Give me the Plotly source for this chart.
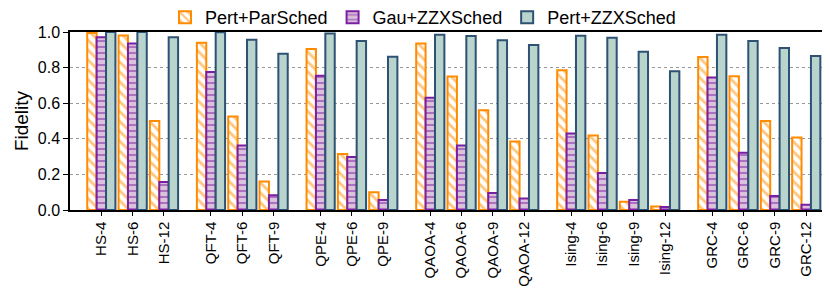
import plotly.graph_objects as go

categories = ["HS-4", "HS-6", "HS-12",
              "QFT-4", "QFT-6", "QFT-9",
              "QPE-4", "QPE-6", "QPE-9",
              "QAOA-4", "QAOA-6", "QAOA-9", "QAOA-12",
              "Ising-4", "Ising-6", "Ising-9", "Ising-12",
              "GRC-4", "GRC-6", "GRC-9", "GRC-12"]
group_sizes = [3, 3, 3, 4, 4, 4]

pert_parsched = [0.995, 0.98, 0.50,
                 0.94, 0.525, 0.16,
                 0.905, 0.315, 0.10,
                 0.935, 0.75, 0.56, 0.385,
                 0.785, 0.418, 0.047, 0.02,
                 0.86, 0.752, 0.50, 0.407]
gau_zzxsched = [0.97, 0.935, 0.158,
                0.775, 0.362, 0.083,
                0.754, 0.298, 0.056,
                0.63, 0.362, 0.096, 0.064,
                0.43, 0.208, 0.056, 0.017,
                0.745, 0.321, 0.079, 0.03]
pert_zzxsched = [1.0, 1.0, 0.97,
                 0.998, 0.957, 0.878,
                 0.992, 0.949, 0.861,
                 0.985, 0.977, 0.953, 0.927,
                 0.979, 0.968, 0.889, 0.779,
                 0.985, 0.949, 0.91, 0.865]

# x positions: unit spacing within groups, extra gap between groups
xpos = []
pos = 0.0
for gi, n in enumerate(group_sizes):
    for k in range(n):
        xpos.append(pos)
        pos += 1.0
    pos += 0.5

font_family = "Liberation Sans, Arial, sans-serif"

fig = go.Figure()
fig.add_trace(go.Bar(
    x=xpos, y=pert_parsched, name="Pert+ParSched",
    marker=dict(color="white",
                line=dict(color="#FF8C00", width=2),
                pattern=dict(shape="\\", fgcolor="#FF8C00", bgcolor="white",
                             size=7, solidity=0.4)),
))
fig.add_trace(go.Bar(
    x=xpos, y=gau_zzxsched, name="Gau+ZZXSched",
    marker=dict(color="#dcc3dc",
                line=dict(color="#7B1FA2", width=2),
                pattern=dict(shape="-", fgcolor="#7B1FA2", bgcolor="#dcc3dc",
                             size=6, solidity=0.35)),
))
fig.add_trace(go.Bar(
    x=xpos, y=pert_zzxsched, name="Pert+ZZXSched",
    marker=dict(color="#b9d3cd",
                line=dict(color="#2d5273", width=2)),
))

fig.update_layout(
    width=830, height=289,
    barmode="group", bargap=0.1, bargroupgap=0.0,
    paper_bgcolor="white", plot_bgcolor="white",
    margin=dict(l=62, r=2, t=24, b=87, autoexpand=False),
    font=dict(family=font_family, size=16, color="black"),
    legend=dict(orientation="h", xref="container", x=0.5, xanchor="center",
                yref="paper", y=1.185, yanchor="top",
                font=dict(size=18), bgcolor="rgba(0,0,0,0)",
                tracegroupgap=0),
    showlegend=True,
)
fig.update_xaxes(
    tickmode="array", tickvals=xpos, ticktext=categories,
    tickangle=-90, range=[-1.0, 23.45], automargin=False,
    showline=True, linecolor="black", linewidth=1.5, mirror=True,
    ticks="outside", ticklen=4, tickcolor="black",
    showgrid=False, zeroline=False,
    tickfont=dict(size=15),
)
fig.update_yaxes(
    range=[0, 1.0], tickmode="array", tickvals=[0, 0.2, 0.4, 0.6, 0.8, 1.0],
    tickformat=".1f", automargin=False,
    showline=True, linecolor="black", linewidth=1.5, mirror=True,
    ticks="outside", ticklen=5, tickcolor="black",
    showgrid=True, gridcolor="#999999", griddash="dot", gridwidth=1,
    zeroline=False,
    title=dict(text="Fidelity", font=dict(size=19), standoff=4),
    tickfont=dict(size=16),
)

fig.write_html("out.html")
